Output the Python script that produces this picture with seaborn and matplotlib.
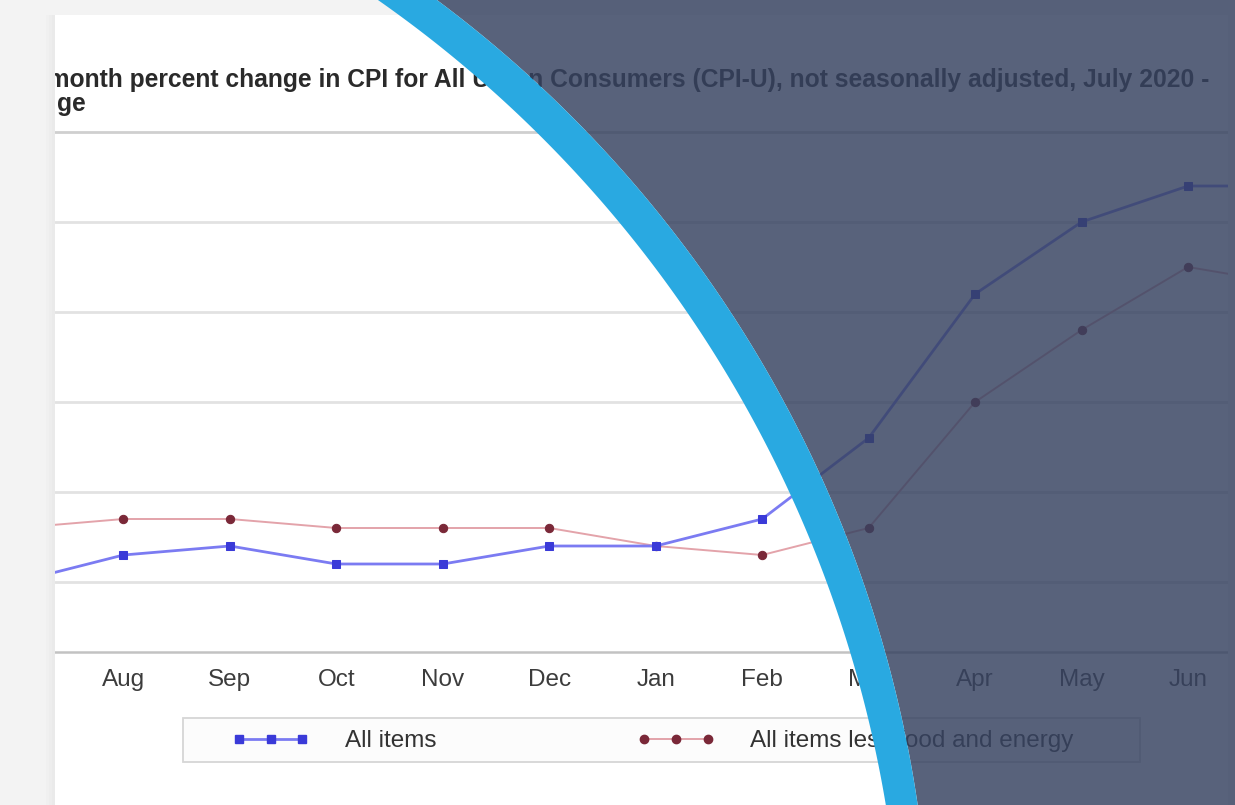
import numpy as np
import pandas as pd
import matplotlib
matplotlib.use("Agg")
import matplotlib.pyplot as plt
import seaborn as sns
from matplotlib.patches import Rectangle, Polygon
from matplotlib.lines import Line2D

# ---------------- data ----------------
months = ["Jul", "Aug", "Sep", "Oct", "Nov", "Dec", "Jan", "Feb", "Mar", "Apr", "May", "Jun", "Jul"]
all_items = [1.0, 1.3, 1.4, 1.2, 1.2, 1.4, 1.4, 1.7, 2.6, 4.2, 5.0, 5.4, 5.4]
core_items = [1.6, 1.7, 1.7, 1.6, 1.6, 1.6, 1.4, 1.3, 1.6, 3.0, 3.8, 4.5, 4.3]
series_names = ["All items", "All items less food and energy"]
gridline_values = [1, 2, 3, 4, 5]
title_line1 = ("12-month percent change in CPI for All Urban Consumers (CPI-U), "
               "not seasonally adjusted, July 2020 -")
title_line2 = "ge"

# ---------------- setup ----------------
W, H = 1235, 805
sns.set_theme(style="white")
plt.rcParams['font.family'] = ['Liberation Sans', 'DejaVu Sans']

fig = plt.figure(figsize=(W / 100, H / 100), dpi=100, facecolor='white')


def fx(px):
    return px / W


def fy(py):
    return 1 - py / H


ax = fig.add_axes([fx(55), fy(652), fx(1228) - fx(55), fy(132) - fy(652)])
ax.set_facecolor('none')

df = pd.DataFrame({"idx": np.arange(len(months)), "all": all_items, "core": core_items})

ALL_LINE, ALL_MARK = "#7b7bf2", "#3a3ad8"
CORE_LINE, CORE_MARK = "#e3a3aa", "#7a2838"

sns.lineplot(data=df, x="idx", y="core", ax=ax, color=CORE_LINE, lw=1.4,
             marker="o", markersize=6, markerfacecolor=CORE_MARK,
             markeredgecolor=CORE_MARK, zorder=3)
sns.lineplot(data=df, x="idx", y="all", ax=ax, color=ALL_LINE, lw=2.0,
             marker="s", markersize=5.5, markerfacecolor=ALL_MARK,
             markeredgecolor=ALL_MARK, zorder=4)

ax.set_xticks(df["idx"])
ax.set_xticklabels(months)
ax.set_yticks(gridline_values)
px_per_month = (1188 - 17) / 11.0
ax.set_xlim((55 - 17) / px_per_month, (1228 - 17) / px_per_month)
ax.set_ylim(6 - 520 / 90.0, 6.0)
ax.yaxis.grid(True, color="#e2e2e2", lw=2.0)
ax.xaxis.grid(False)
ax.tick_params(axis='y', left=False, labelleft=False)
ax.tick_params(axis='x', length=0, pad=12, labelsize=17.5, labelcolor="#3c3c3c")
ax.set_xlabel("")
ax.set_ylabel("")
for s in ["left", "right"]:
    ax.spines[s].set_visible(False)
ax.spines["top"].set_color("#cfcfcf")
ax.spines["top"].set_linewidth(2.0)
ax.spines["bottom"].set_color("#c2c2c2")
ax.spines["bottom"].set_linewidth(1.8)

# ---------------- title (fit to visible span) ----------------
renderer = fig.canvas.get_renderer()
fs0 = 15
tmp_full = fig.text(0, 0, title_line1, fontsize=fs0, fontweight='bold')
tmp_pre = fig.text(0, 0, "12-m", fontsize=fs0, fontweight='bold')
w_full = tmp_full.get_window_extent(renderer).width
w_pre = tmp_pre.get_window_extent(renderer).width
tmp_full.remove()
tmp_pre.remove()
scale = (1215 - 70) / (w_full - w_pre)
fs_title = fs0 * scale
x0 = 70 - w_pre * scale
fig.text(fx(x0), fy(80), title_line1, fontsize=fs_title, fontweight='bold',
         va='center', ha='left', color="#2a2a2a", zorder=3)
fig.text(fx(57), fy(104), title_line2, fontsize=fs_title, fontweight='bold',
         va='center', ha='left', color="#2a2a2a", zorder=3)

# ---------------- legend ----------------
fig.add_artist(Rectangle((fx(183), fy(762)), fx(1140) - fx(183), fy(718) - fy(762),
                         transform=fig.transFigure, facecolor="#fcfcfc",
                         edgecolor="#d6d6d6", lw=1.3, zorder=4))
handles = [
    Line2D([], [], color=ALL_LINE, lw=2.0, marker="s", markersize=5.5,
           markerfacecolor=ALL_MARK, markeredgecolor=ALL_MARK),
    Line2D([], [], color=CORE_LINE, lw=1.4, marker="o", markersize=6,
           markerfacecolor=CORE_MARK, markeredgecolor=CORE_MARK),
]
leg = fig.legend(handles, series_names, loc='center left',
                 bbox_to_anchor=(fx(232), fy(741)), ncol=2, frameon=False,
                 fontsize=17.5, handlelength=3.2, handletextpad=1.45,
                 columnspacing=8.25, borderpad=0, borderaxespad=0, numpoints=3)
for t in leg.get_texts():
    t.set_color("#333333")

# ---------------- page decoration ----------------
BG = "#f3f3f3"
fig.add_artist(Rectangle((0, 0), fx(55), 1, transform=fig.transFigure,
                         facecolor=BG, edgecolor='none', zorder=15))
for i, c in enumerate(["#f0f0f0", "#ededed", "#eaeaea"]):
    fig.add_artist(Rectangle((fx(46 + 3 * i), 0), fx(3), fy(15), transform=fig.transFigure,
                             facecolor=c, edgecolor='none', zorder=15))
fig.add_artist(Rectangle((0, fy(15)), 1, 1 - fy(15), transform=fig.transFigure,
                         facecolor=BG, edgecolor='none', zorder=15))
fig.add_artist(Rectangle((fx(1228), 0), 1 - fx(1228), 1, transform=fig.transFigure,
                         facecolor=BG, edgecolor='none', zorder=15))

ys = np.linspace(-10, H + 10, 400)


def circ_x(cx, cy, r, y):
    return cx + np.sqrt(r ** 2 - (y - cy) ** 2)


xa = circ_x(-328.0, 1008.1, 1230.7, ys)
xb = circ_x(-295.8, 983.7, 1226.6, ys)

dark_px = np.column_stack([np.r_[xb, W + 20, W + 20], np.r_[ys, ys[-1], ys[0]]])
blue_px = np.column_stack([np.r_[xa, xb[::-1]], np.r_[ys, ys[::-1]]])


def to_fig(pts):
    return np.column_stack([pts[:, 0] / W, 1 - pts[:, 1] / H])


fig.add_artist(Polygon(to_fig(dark_px), closed=True, transform=fig.transFigure,
                       facecolor="#364260", alpha=0.83, edgecolor='none', zorder=20))
fig.add_artist(Polygon(to_fig(blue_px), closed=True, transform=fig.transFigure,
                       facecolor="#29a9e1", edgecolor='none', zorder=21))

fig.savefig("out.png", dpi=100, facecolor=fig.get_facecolor())
